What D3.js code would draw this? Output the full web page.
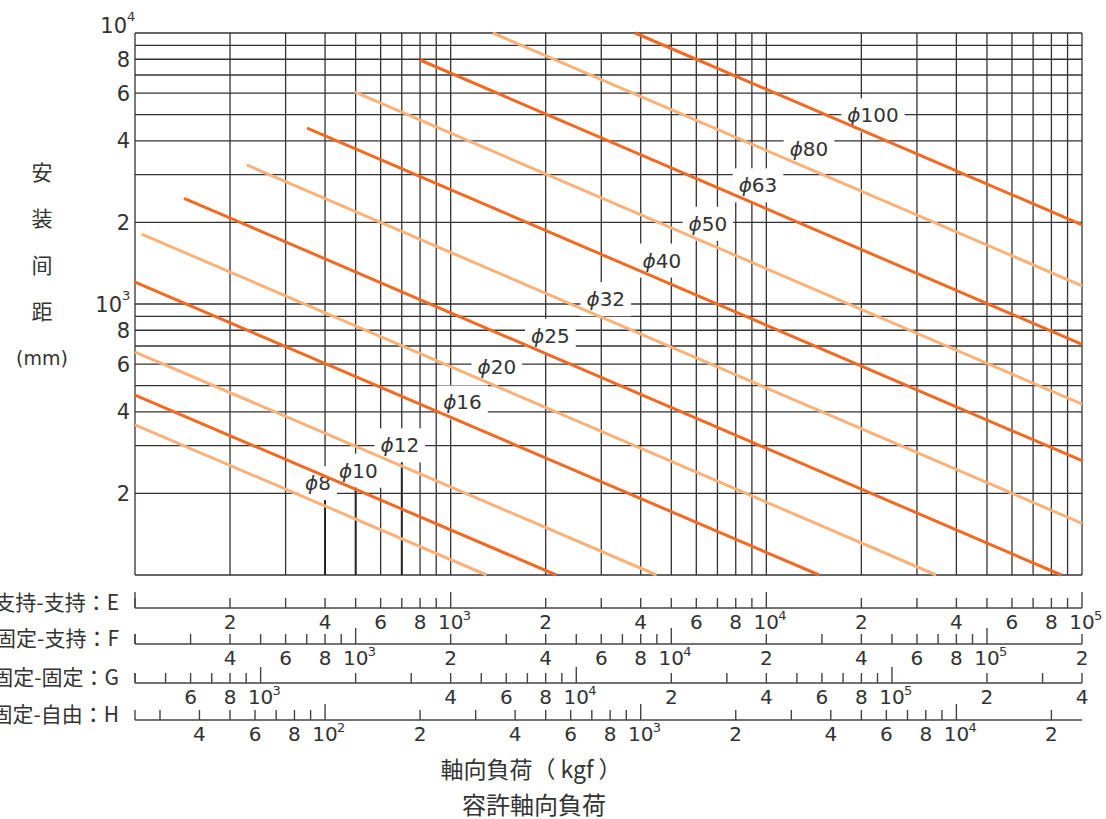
<!DOCTYPE html>
<html>
<head>
<meta charset="utf-8">
<script src="https://cdn.jsdelivr.net/npm/d3@7"></script>
<style>
  body { margin: 0; background: #fff; }
  text { font-family: "DejaVu Sans", sans-serif; fill: #333; }
  .cjk { font-family: "Noto Sans CJK JP", "Noto Sans CJK SC", sans-serif; }
</style>
</head>
<body>
<div id="chart"></div>
<script>
// screw shaft diameters (mm)
const diameters = ["8", "10", "12", "16", "20", "25", "32", "40", "50", "63", "80", "100"];

// each line: start / end point (load on scale E in kgf, mounting span in mm)
const startLoad = [100, 100, 100, 100, 105, 143, 226, 351, 498, 800, 1360, 3840];
const startLen  = [358, 461, 665, 1205, 1810, 2455, 3260, 4460, 6050, 7950, 10000, 10000];
const endLoad   = [1300, 2160, 4490, 14700, 34500, 86000, 100000, 100000, 100000, 100000, 100000, 100000];
const endLen    = [100, 100, 100, 100, 100, 100, 155, 264, 427, 710, 1167, 1960];

// where the ϕ label sits along each line (load on scale E)
const labelLoad = [380, 510, 690, 1090, 1400, 2070, 3100, 4670, 6530, 9410, 13650, 21780];

// small diameters have a marked load limit (scale E)
const limitLoad = [400, 500, 700];

// y tick labels
const yLabels = [10000, 8000, 6000, 4000, 2000, 1000, 800, 600, 400, 200];

// the four load scales under the chart
const rowNames   = ["支持-支持：E", "固定-支持：F", "固定-固定：G", "固定-自由：H"];
const rowFactors = [1, 2, 4, 0.25];
const eLabels = [200, 400, 600, 800, 1e3, 2e3, 4e3, 6e3, 8e3, 1e4, 2e4, 4e4, 6e4, 8e4, 1e5];
const fLabels = [400, 600, 800, 1e3, 2e3, 4e3, 6e3, 8e3, 1e4, 2e4, 4e4, 6e4, 8e4, 1e5, 2e5];
const gLabels = [600, 800, 1e3, 4e3, 6e3, 8e3, 1e4, 2e4, 4e4, 6e4, 8e4, 1e5, 2e5, 4e5];
const hLabels = [40, 60, 80, 100, 200, 400, 600, 800, 1e3, 2e3, 4e3, 6e3, 8e3, 1e4, 2e4];
const rowLabels = [eLabels, fLabels, gLabels, hLabels];

const yTitle = ["安", "装", "间", "距"];
const xTitle1 = "軸向負荷（ kgf ）";
const xTitle2 = "容許軸向負荷";

const width = 1106, height = 819;
const plotLeft = 135, plotRight = 1082, plotTop = 33, plotBottom = 575;

const svg = d3.select("#chart").append("svg")
  .attr("width", width)
  .attr("height", height);

const x = d3.scaleLog().domain([100, 1e5]).range([plotLeft, plotRight]);
const y = d3.scaleLog().domain([100, 1e4]).range([plotBottom, plotTop]);

function logTicks(d0, d1) {
  const out = [];
  for (let n = Math.floor(Math.log10(d0)); n <= Math.ceil(Math.log10(d1)); n++) {
    for (let k = 1; k <= 9; k++) {
      const v = k * Math.pow(10, n);
      if (v >= d0 * 0.999 && v <= d1 * 1.001) out.push(v);
    }
  }
  return out;
}
const isPow10 = v => Math.abs(Math.log10(v) - Math.round(Math.log10(v))) < 1e-9;

// grid
const grid = svg.append("g").attr("stroke", "#333").attr("stroke-width", 1.3);
grid.selectAll(".vx")
  .data(logTicks(100, 1e5))
  .join("line")
  .attr("class", "vx")
  .attr("x1", d => x(d)).attr("x2", d => x(d))
  .attr("y1", plotTop).attr("y2", plotBottom);
grid.selectAll(".hy")
  .data(logTicks(100, 1e4))
  .join("line")
  .attr("class", "hy")
  .attr("x1", plotLeft).attr("x2", plotRight)
  .attr("y1", d => y(d)).attr("y2", d => y(d));

// label position helper (log interpolation along a drawn line)
function lenAt(i, load) {
  const t = (Math.log10(load) - Math.log10(startLoad[i])) /
            (Math.log10(endLoad[i]) - Math.log10(startLoad[i]));
  return Math.pow(10, Math.log10(startLen[i]) + t * (Math.log10(endLen[i]) - Math.log10(startLen[i])));
}

// label boxes (white, they break the grid)
const labels = svg.append("g");
const labelNodes = diameters.map((d, i) => {
  const cx = x(labelLoad[i]);
  const cy = y(lenAt(i, labelLoad[i])) - 20;
  const g = labels.append("g");
  const rect = g.append("rect").attr("fill", "#fff");
  const t = g.append("text")
    .attr("x", cx).attr("y", cy).attr("dy", "0.36em")
    .attr("text-anchor", "middle")
    .style("font-size", "20px");
  t.append("tspan").style("font-style", "italic").text("ϕ");
  t.append("tspan").text(d);
  const bb = t.node().getBBox();
  rect.attr("x", bb.x - 6).attr("y", bb.y - 5)
    .attr("width", bb.width + 12).attr("height", bb.height + 10);
  return { cx, cy, bb };
});

// limit marks for the small shafts
svg.append("g").selectAll("line")
  .data(limitLoad)
  .join("line")
  .attr("x1", d => x(d)).attr("x2", d => x(d))
  .attr("y1", (d, i) => labelNodes[i].bb.y + labelNodes[i].bb.height + 5)
  .attr("y2", plotBottom)
  .attr("stroke", "#222")
  .attr("stroke-width", 1.9);

// diameter lines
svg.append("g").selectAll("line")
  .data(diameters)
  .join("line")
  .attr("x1", (d, i) => x(startLoad[i]))
  .attr("y1", (d, i) => y(startLen[i]))
  .attr("x2", (d, i) => x(endLoad[i]))
  .attr("y2", (d, i) => y(endLen[i]))
  .attr("stroke", (d, i) => i % 2 === 0 ? "#fab27c" : "#f26a21")
  .attr("stroke-width", 3);

// y tick labels
const yl = svg.append("g").style("font-size", "21px");
yLabels.forEach(v => {
  const py = y(v) + (v === 1e4 ? -8 : 0);
  const ax = v === 1e4 ? 127 : 122;
  if (isPow10(v)) {
    yl.append("text").attr("x", ax).attr("y", py).attr("dy", "0.36em")
      .attr("text-anchor", "end").text("10");
    yl.append("text").attr("x", ax).attr("y", py - 9).attr("dy", "0.36em")
      .style("font-size", "13px").text(Math.round(Math.log10(v)));
  } else {
    yl.append("text").attr("x", 130).attr("y", py).attr("dy", "0.36em")
      .attr("text-anchor", "end").text(String(v)[0]);
  }
});

// y title
const yt = svg.append("g").style("font-size", "21px");
yTitle.forEach((c, i) => {
  yt.append("text").attr("class", "cjk")
    .attr("x", 42).attr("y", 172 + i * 46.5).attr("dy", "0.36em")
    .attr("text-anchor", "middle").text(c);
});
svg.append("text").attr("x", 42).attr("y", 358).attr("dy", "0.36em")
  .attr("text-anchor", "middle").style("font-size", "19px").text("(mm)");

// the four load scales
const rowY = [608, 644, 683, 720];
rowNames.forEach((name, r) => {
  const f = rowFactors[r];
  const d0 = 100 * f, d1 = 1e5 * f;
  const rx = d3.scaleLog().domain([d0, d1]).range([plotLeft, plotRight]);
  const ay = rowY[r];
  const g = svg.append("g");

  g.append("line")
    .attr("x1", plotLeft).attr("x2", plotRight)
    .attr("y1", ay).attr("y2", ay)
    .attr("stroke", "#444").attr("stroke-width", 1.4);

  g.append("line")
    .attr("x1", plotLeft).attr("x2", plotLeft)
    .attr("y1", ay - 10).attr("y2", ay)
    .attr("stroke", "#444").attr("stroke-width", 1.4);

  g.selectAll(".tk")
    .data(logTicks(d0, d1))
    .join("line")
    .attr("class", "tk")
    .attr("x1", d => rx(d)).attr("x2", d => rx(d))
    .attr("y1", d => ay - (isPow10(d) ? 16 : 10)).attr("y2", ay)
    .attr("stroke", "#444").attr("stroke-width", 1.4);

  rowLabels[r].forEach(v => {
    const px = rx(v);
    if (isPow10(v)) {
      g.append("text").attr("x", px).attr("y", ay + 21)
        .attr("text-anchor", "middle").style("font-size", "20px").text("10");
      g.append("text").attr("x", px + 12).attr("y", ay + 12)
        .style("font-size", "13px").text(Math.round(Math.log10(v)));
    } else {
      g.append("text").attr("x", px).attr("y", ay + 21)
        .attr("text-anchor", "middle").style("font-size", "20px").text(String(v)[0]);
    }
  });

  g.append("text").attr("class", "cjk")
    .attr("x", 119).attr("y", ay - 6).attr("dy", "0.36em")
    .attr("text-anchor", "end").style("font-size", "21px")
    .text(name);
});

// x titles
svg.append("text").attr("class", "cjk")
  .attr("x", 531).attr("y", 770).attr("dy", "0.36em")
  .attr("text-anchor", "middle").style("font-size", "23px")
  .text(xTitle1);
svg.append("text").attr("class", "cjk")
  .attr("x", 534).attr("y", 805).attr("dy", "0.36em")
  .attr("text-anchor", "middle").style("font-size", "24px")
  .text(xTitle2);
</script>
</body>
</html>
